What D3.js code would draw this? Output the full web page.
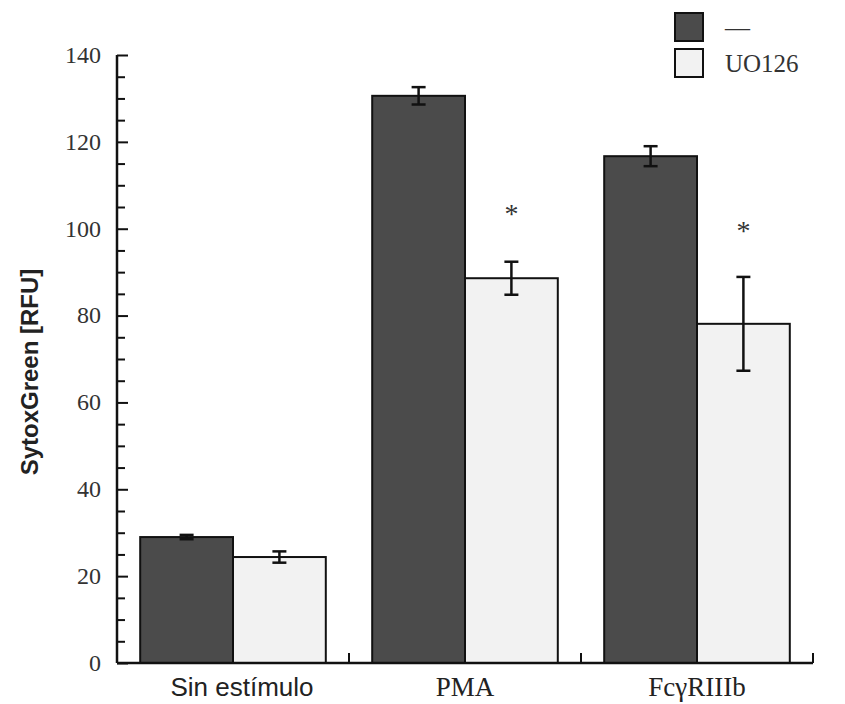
<!DOCTYPE html>
<html>
<head>
<meta charset="utf-8">
<script src="https://cdn.jsdelivr.net/npm/d3@7"></script>
<style>
  body { margin: 0; background: #fff; }
</style>
</head>
<body>
<script>
// data
const categories = ["Sin estímulo", "PMA", "FcγRIIIb"]
const series = ["ctrl", "uo126"]
const seriesLabels = ["—", "UO126"]
const ctrlValues = [29.0, 130.6, 116.7]
const ctrlErrors = [0.5, 2.0, 2.3]
const uoValues = [24.4, 88.6, 78.1]
const uoErrors = [1.3, 3.8, 10.8]
const starValues = [null, 104, 100]
const yTicks = [0, 20, 40, 60, 80, 100, 120, 140]

const width = 845, height = 704
const margin = {top: 55, right: 32, bottom: 41, left: 117}

const svg = d3.select("body").append("svg")
    .attr("width", width)
    .attr("height", height)

const x = d3.scaleBand()
    .domain(categories)
    .range([margin.left, width - margin.right])
    .paddingInner(0)
    .paddingOuter(0)

const xs = d3.scaleBand()
    .domain(series)
    .range([0, x.bandwidth()])
    .paddingInner(0)
    .paddingOuter(0.25)

const y = d3.scaleLinear()
    .domain([0, 140])
    .range([height - margin.bottom, margin.top])

const fills = {ctrl: "#4b4b4b", uo126: "#f2f2f2"}

const rows = categories.map((c, i) => ({
    cat: c,
    bars: [
        {key: "ctrl", v: ctrlValues[i], e: ctrlErrors[i]},
        {key: "uo126", v: uoValues[i], e: uoErrors[i]}
    ],
    star: starValues[i]
}))

const groups = svg.append("g")
    .selectAll("g")
    .data(rows)
    .join("g")
    .attr("transform", d => `translate(${x(d.cat)},0)`)

groups.selectAll("rect")
    .data(d => d.bars)
    .join("rect")
    .attr("x", d => xs(d.key))
    .attr("y", d => y(d.v))
    .attr("width", xs.bandwidth())
    .attr("height", d => y(0) - y(d.v))
    .attr("fill", d => fills[d.key])
    .attr("stroke", "#111")
    .attr("stroke-width", 2)

// error bars
const err = groups.selectAll("g.err")
    .data(d => d.bars)
    .join("g")
    .attr("class", "err")
    .attr("stroke", "#111")
    .attr("stroke-width", 2.5)
const cx = d => xs(d.key) + xs.bandwidth() / 2
err.append("line")
    .attr("x1", cx).attr("x2", cx)
    .attr("y1", d => y(d.v + d.e)).attr("y2", d => y(d.v - d.e))
err.append("line")
    .attr("x1", d => cx(d) - 7).attr("x2", d => cx(d) + 7)
    .attr("y1", d => y(d.v + d.e)).attr("y2", d => y(d.v + d.e))
err.append("line")
    .attr("x1", d => cx(d) - 7).attr("x2", d => cx(d) + 7)
    .attr("y1", d => y(d.v - d.e)).attr("y2", d => y(d.v - d.e))

// significance stars
groups.filter(d => d.star != null)
    .append("text")
    .attr("x", xs("uo126") + xs.bandwidth() / 2)
    .attr("y", d => y(d.star))
    .attr("dy", "0.4em")
    .attr("text-anchor", "middle")
    .attr("font-family", "Liberation Serif, serif")
    .attr("font-size", 28)
    .attr("fill", "#333")
    .text("*")

// y axis
const yAxis = svg.append("g")
    .attr("transform", `translate(${margin.left},0)`)
yAxis.call(d3.axisRight(y).tickValues(d3.range(0, 141, 5)).tickSize(9).tickFormat(""))
yAxis.select(".domain").remove()
yAxis.selectAll(".tick line")
    .attr("stroke", "#111")
    .attr("stroke-width", 2)
    .attr("x2", d => d % 20 === 0 ? 11 : 8)
yAxis.append("line")
    .attr("y1", y(140)).attr("y2", y(0))
    .attr("stroke", "#111").attr("stroke-width", 2.5)

svg.append("g")
    .selectAll("text")
    .data(yTicks)
    .join("text")
    .attr("x", margin.left - 16)
    .attr("y", d => y(d))
    .attr("dy", "0.33em")
    .attr("text-anchor", "end")
    .attr("font-family", "Liberation Serif, serif")
    .attr("font-size", 24)
    .attr("fill", "#333")
    .text(d => d)

svg.append("text")
    .attr("transform", `translate(38,${(y(0) + y(140)) / 2 + 13}) rotate(-90)`)
    .attr("text-anchor", "middle")
    .attr("font-family", "Liberation Sans, Arial, sans-serif")
    .attr("font-weight", "bold")
    .attr("font-size", 24)
    .attr("fill", "#222")
    .text("SytoxGreen [RFU]")

// x axis
const xAxis = svg.append("g")
xAxis.append("line")
    .attr("x1", margin.left).attr("x2", width - margin.right)
    .attr("y1", y(0)).attr("y2", y(0))
    .attr("stroke", "#111").attr("stroke-width", 2.5)
xAxis.selectAll("line.tick")
    .data(categories)
    .join("line")
    .attr("class", "tick")
    .attr("x1", d => x(d) + x.bandwidth()).attr("x2", d => x(d) + x.bandwidth())
    .attr("y1", y(0)).attr("y2", y(0) - 10)
    .attr("stroke", "#111").attr("stroke-width", 2)

xAxis.selectAll("text")
    .data(categories)
    .join("text")
    .attr("x", d => x(d) + x.bandwidth() / 2 + (d === "Sin estímulo" ? 9 : 0))
    .attr("y", y(0) + 33)
    .attr("text-anchor", "middle")
    .attr("font-family", d => d === "Sin estímulo" ? "Liberation Sans, Arial, sans-serif" : "Liberation Serif, serif")
    .attr("font-size", d => d === "Sin estímulo" ? 26 : 27)
    .attr("fill", "#222")
    .text(d => d)

// legend
const legend = svg.append("g")
    .attr("transform", "translate(675,13)")
const li = legend.selectAll("g")
    .data(series)
    .join("g")
    .attr("transform", (d, i) => `translate(0,${i * 36})`)
li.append("rect")
    .attr("width", 28).attr("height", 28)
    .attr("fill", d => fills[d])
    .attr("stroke", "#111")
    .attr("stroke-width", 2)
li.append("text")
    .attr("x", 50)
    .attr("y", 14)
    .attr("dy", "0.35em")
    .attr("font-family", "Liberation Serif, serif")
    .attr("font-size", 25)
    .attr("fill", "#333")
    .text((d, i) => seriesLabels[i])
</script>
</body>
</html>
